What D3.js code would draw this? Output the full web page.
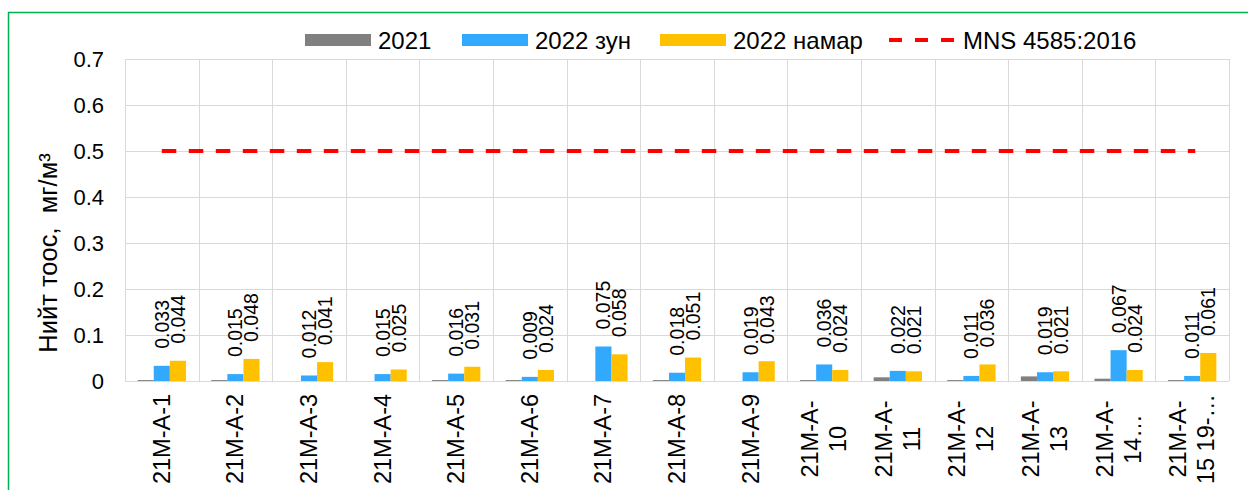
<!DOCTYPE html>
<html>
<head>
<meta charset="utf-8">
<script src="https://cdn.jsdelivr.net/npm/d3@7"></script>
<style>
  body { margin: 0; background: #fff; }
  svg { display: block; font-family: "Liberation Sans", Arial, sans-serif; }
</style>
</head>
<body>
<div id="chart"></div>
<script>
// chart data
var categories = ["21M-A-1", "21M-A-2", "21M-A-3", "21M-A-4", "21M-A-5", "21M-A-6", "21M-A-7", "21M-A-8",
                  "21M-A-9", "21M-A-10", "21M-A-11", "21M-A-12", "21M-A-13", "21M-A-14…", "21M-A-15 19-…"];
var tickLines = [["21M-A-1"], ["21M-A-2"], ["21M-A-3"], ["21M-A-4"], ["21M-A-5"], ["21M-A-6"], ["21M-A-7"], ["21M-A-8"],
                 ["21M-A-9"], ["21M-A-", "10"], ["21M-A-", "11"], ["21M-A-", "12"], ["21M-A-", "13"],
                 ["21M-A-", "14…"], ["21M-A-", "15 19-…"]];
var series = ["2021", "2022 зун", "2022 намар"];
var v2021  = [0.002, 0.002, 0, 0, 0.002, 0.002, 0, 0.002, 0, 0.002, 0.008, 0.002, 0.010, 0.005, 0.002];
var vSummer = [0.033, 0.015, 0.012, 0.015, 0.016, 0.009, 0.075, 0.018, 0.019, 0.036, 0.022, 0.011, 0.019, 0.067, 0.011];
var vAutumn = [0.044, 0.048, 0.041, 0.025, 0.031, 0.024, 0.058, 0.051, 0.043, 0.024, 0.021, 0.036, 0.021, 0.024, 0.061];
var limitName = "MNS 4585:2016";
var limitValue = 0.5;
var yTicks = [0, 0.1, 0.2, 0.3, 0.4, 0.5, 0.6, 0.7];
var yTitle = "Нийт тоос,  мг/м³";

var colors = { "2021": "#808080", "2022 зун": "#33a9fd", "2022 намар": "#ffc000" };
var values = [v2021, vSummer, vAutumn];

var W = 1248, H = 490,
    plot = { left: 125, right: 1229, top: 59, bottom: 381 };

var svg = d3.select("#chart").append("svg").attr("width", W).attr("height", H);

svg.append("rect").attr("width", W).attr("height", H).style("fill", "#fff");

// green frame
svg.append("rect")
    .attr("x", 8.5).attr("y", 12.5)
    .attr("width", W + 20).attr("height", H + 20)
    .style("fill", "none").style("stroke", "#00b050").style("stroke-width", 1.5);

var x0 = d3.scaleBand().domain(categories).range([plot.left, plot.right]).padding(0);
var bw = x0.bandwidth();
var x1 = d3.scaleBand().domain(series).range([bw * 0.172, bw * 0.828]).padding(0);
var y = d3.scaleLinear().domain([0, 0.7]).range([plot.bottom, plot.top]);

// horizontal grid
svg.append("g").selectAll("line")
    .data(yTicks)
    .enter().append("line")
    .attr("x1", plot.left).attr("x2", plot.right)
    .attr("y1", d => Math.round(y(d)) + 0.5).attr("y2", d => Math.round(y(d)) + 0.5)
    .style("stroke", "#d9d9d9").style("stroke-width", 1);

// vertical grid at category edges
var edges = categories.map(c => x0(c)).concat([plot.right]);
svg.append("g").selectAll("line")
    .data(edges)
    .enter().append("line")
    .attr("x1", d => Math.round(d) + 0.5).attr("x2", d => Math.round(d) + 0.5)
    .attr("y1", plot.top).attr("y2", plot.bottom)
    .style("stroke", "#d9d9d9").style("stroke-width", 1);

// y axis labels
var yAxis = svg.append("g")
    .attr("transform", "translate(" + (plot.left - 21) + ",0)")
    .call(d3.axisLeft(y).tickValues(yTicks).tickSize(0).tickPadding(0)
            .tickFormat(d => d === 0 ? "0" : d.toFixed(1)));
yAxis.select(".domain").remove();
yAxis.selectAll("text").style("font-size", "22px").style("fill", "#000")
    .attr("font-family", null);

// y title
svg.append("text")
    .attr("transform", "translate(48,253) rotate(-90)")
    .attr("text-anchor", "middle")
    .attr("dominant-baseline", "central")
    .style("font-size", "25.5px")
    .style("white-space", "pre")
    .text(yTitle);

// bars
var groups = svg.append("g").selectAll("g")
    .data(categories)
    .enter().append("g")
    .attr("transform", d => "translate(" + x0(d) + ",0)");

groups.selectAll("rect")
    .data((c, i) => series.map((s, j) => ({ s: s, v: values[j][i] })))
    .enter().append("rect")
    .attr("x", d => x1(d.s))
    .attr("width", x1.bandwidth())
    .attr("y", d => y(d.v))
    .attr("height", d => y(0) - y(d.v))
    .style("fill", d => colors[d.s]);

// data labels for 2022 series
groups.selectAll("text.val")
    .data((c, i) => series.slice(1).map((s, j) => ({ s: s, v: values[j + 1][i] })))
    .enter().append("text")
    .attr("class", "val")
    .attr("transform", d => "translate(" + (x1(d.s) + x1.bandwidth() / 2) + "," + (y(d.v) - 17) + ") rotate(-90)")
    .attr("dominant-baseline", "central")
    .style("font-size", "19.5px")
    .text(d => d.v.toFixed(3));

// limit line
var cFirst = x0(categories[0]) + bw / 2,
    cLast = x0(categories[categories.length - 1]) + bw / 2;
svg.append("line")
    .attr("x1", cFirst).attr("x2", cLast + 3)
    .attr("y1", y(limitValue)).attr("y2", y(limitValue))
    .style("stroke", "#ff0000").style("stroke-width", 4)
    .style("stroke-dasharray", "14.5,12.5");

// x labels
var xl = svg.append("g").selectAll("text")
    .data(categories)
    .enter().append("text")
    .attr("transform", d => "translate(" + (x0(d) + bw / 2) + ",439) rotate(-90)")
    .attr("text-anchor", "middle")
    .style("font-size", "23.5px");

xl.selectAll("tspan")
    .data((d, i) => tickLines[i].map((t, k, arr) => ({ t: t, k: k, n: arr.length })))
    .enter().append("tspan")
    .attr("x", 0)
    .attr("y", d => d.n === 1 ? 0 : (d.k === 0 ? -14 : 14))
    .attr("dominant-baseline", "central")
    .text(d => d.t);

// legend
var legendItems = [
  { name: series[0], x: 305, type: "rect" },
  { name: series[1], x: 462, type: "rect" },
  { name: series[2], x: 660, type: "rect" },
  { name: limitName, x: 889, type: "dash" }
];
var lg = svg.append("g").selectAll("g")
    .data(legendItems)
    .enter().append("g")
    .attr("transform", d => "translate(" + d.x + ",40)");

lg.filter(d => d.type === "rect").append("rect")
    .attr("x", 0).attr("y", -6).attr("width", 66).attr("height", 12)
    .style("fill", d => colors[d.name]);

lg.filter(d => d.type === "dash").append("line")
    .attr("x1", 0).attr("x2", 67).attr("y1", 0).attr("y2", 0)
    .style("stroke", "#ff0000").style("stroke-width", 4)
    .style("stroke-dasharray", "13,13");

lg.append("text")
    .attr("x", d => d.type === "rect" ? 73 : 74)
    .attr("dominant-baseline", "central")
    .style("font-size", "24px")
    .text(d => d.name);
</script>
</body>
</html>
